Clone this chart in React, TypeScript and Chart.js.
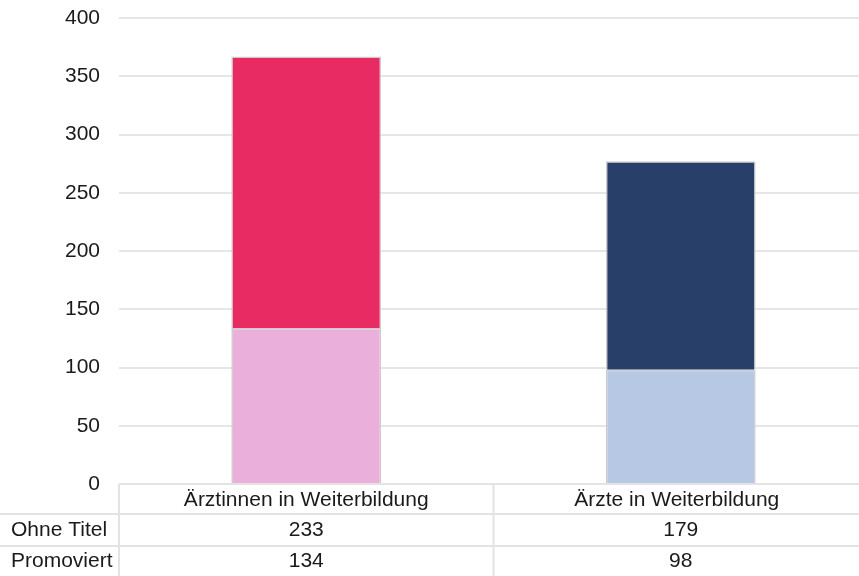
import React, { useEffect, useRef } from "react";
import { Chart, registerables } from "chart.js";

Chart.register(...registerables);

const categories = ["Ärztinnen in Weiterbildung", "Ärzte in Weiterbildung"];
const promoviert = [134, 98];
const ohneTitel = [233, 179];
const promoviertColors = ["#EBAFDB", "#B7C8E5"];
const ohneTitelColors = ["#E82B62", "#283F6A"];
const yTicks = [0, 50, 100, 150, 200, 250, 300, 350, 400];

const VIEW_W = 859;
const VIEW_H = 576;
const FONT = "'Liberation Sans', Arial, Helvetica, sans-serif";
const LINE = "#e3e3e3";
const TEXT = "#1a1a1a";

// Data table under the plot: header row with the categories, then one row per series
const dataTablePlugin = {
  id: "dataTable",
  afterDraw(chart: any) {
    const { ctx, chartArea } = chart;
    const x = chart.scales.x;
    const top = chartArea.bottom;
    const rowH = [30, 32, 30];
    const y1 = top + rowH[0];
    const y2 = y1 + rowH[1];
    const y3 = y2 + rowH[2];
    const boundary = (x.getPixelForValue(0) + x.getPixelForValue(1)) / 2;

    ctx.save();
    ctx.strokeStyle = LINE;
    ctx.lineWidth = 2;
    ctx.beginPath();
    ctx.moveTo(chartArea.left, top);
    ctx.lineTo(chart.width, top);
    ctx.moveTo(0, y1);
    ctx.lineTo(chart.width, y1);
    ctx.moveTo(0, y2);
    ctx.lineTo(chart.width, y2);
    ctx.moveTo(chartArea.left, top);
    ctx.lineTo(chartArea.left, y3);
    ctx.moveTo(boundary, top);
    ctx.lineTo(boundary, y3);
    ctx.stroke();

    ctx.fillStyle = TEXT;
    ctx.font = `21px ${FONT}`;
    ctx.textBaseline = "middle";

    // header: category names
    ctx.textAlign = "center";
    categories.forEach((c, i) => {
      ctx.fillText(c, x.getPixelForValue(i) - (i === 1 ? 4 : 0), top + rowH[0] / 2 + 1);
    });

    // rows in table order: top segment first
    const rows = [chart.data.datasets[1], chart.data.datasets[0]];
    const rowMid = [y1 + rowH[1] / 2, y2 + rowH[2] / 2];
    rows.forEach((ds: any, r: number) => {
      ctx.textAlign = "left";
      ctx.fillText(ds.label, 11, rowMid[r]);
      ctx.textAlign = "center";
      ds.data.forEach((v: number, i: number) => {
        ctx.fillText(String(v), x.getPixelForValue(i), rowMid[r]);
      });
    });
    ctx.restore();
  },
};

export default function App() {
  const ref = useRef<HTMLCanvasElement | null>(null);

  useEffect(() => {
    if (!ref.current) return;
    const chart = new Chart(ref.current, {
      type: "bar",
      data: {
        labels: categories,
        datasets: [
          {
            label: "Promoviert",
            data: promoviert,
            backgroundColor: promoviertColors,
            borderColor: "#cccccc",
            borderWidth: 1.5,
          },
          {
            label: "Ohne Titel",
            data: ohneTitel,
            backgroundColor: ohneTitelColors,
            borderColor: "#cccccc",
            borderWidth: 1.5,
          },
        ],
      },
      options: {
        animation: false,
        responsive: false,
        layout: { padding: { top: 18, bottom: VIEW_H - 484, left: 0, right: 0 } },
        datasets: { bar: { barPercentage: 0.4, categoryPercentage: 1 } },
        plugins: { legend: { display: false }, tooltip: { enabled: false } },
        scales: {
          x: { stacked: true, display: false },
          y: {
            stacked: true,
            min: 0,
            max: 400,
            afterBuildTicks: (s: any) => {
              s.ticks = yTicks.map((v) => ({ value: v }));
            },
            afterFit: (s: any) => {
              s.width = 119;
              s.paddingTop = 0;
              s.paddingBottom = 0;
            },
            border: { display: false },
            grid: { color: "#e6e6e6", lineWidth: 2, drawTicks: false },
            ticks: {
              padding: 19,
              color: TEXT,
              font: { size: 21, family: FONT },
            },
          },
        },
      },
      plugins: [dataTablePlugin],
    });
    return () => chart.destroy();
  }, []);

  return (
    <div
      style={{
        position: "absolute",
        left: 0,
        top: 0,
        width: VIEW_W,
        height: VIEW_H,
        overflow: "hidden",
        background: "#fff",
      }}
    >
      <canvas ref={ref} width={868} height={VIEW_H} style={{ display: "block" }} />
    </div>
  );
}
